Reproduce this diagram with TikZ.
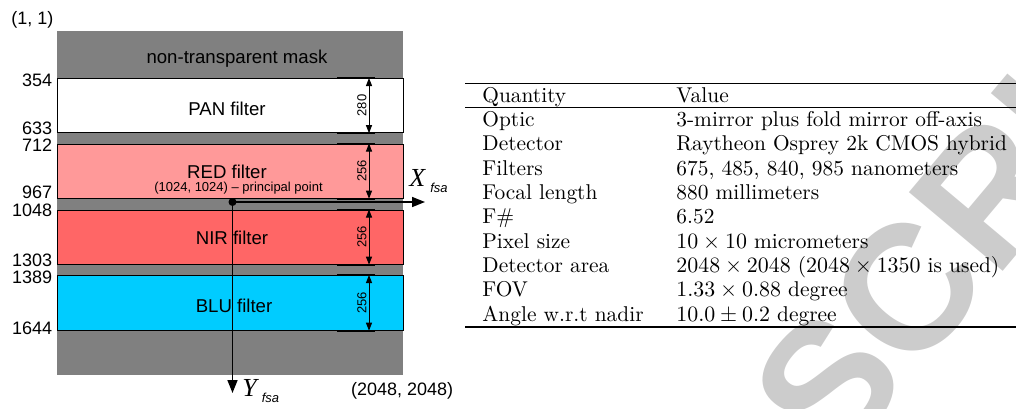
\documentclass[tikz,border=0pt]{standalone}
\usepackage{fontspec}
\usetikzlibrary{arrows.meta}
\newfontfamily\arialfont{Liberation Sans}
\newfontfamily\timesfont{Liberation Serif}
\definecolor{maskgray}{RGB}{128,128,128}
\definecolor{redband}{RGB}{255,153,153}
\definecolor{nirband}{RGB}{255,102,102}
\definecolor{bluband}{RGB}{0,204,255}
\definecolor{wmgray}{RGB}{204,204,204}
\newcommand{\bandfont}{\arialfont\fontsize{9.3}{10}\selectfont}
\newcommand{\numfont}{\arialfont\fontsize{9}{10}\selectfont}
\newcommand{\tinyfont}{\arialfont\fontsize{6.5}{7}\selectfont}
\newcommand{\axisname}[1]{{\timesfont\itshape\fontsize{13}{14}\selectfont #1}\hspace{2.5pt}\raisebox{-3pt}{\arialfont\itshape\fontsize{6.5}{7}\selectfont fsa}}
\tikzset{
  band/.style={draw=black,line width=0.6pt,minimum width=173pt,minimum height=27pt,inner sep=0pt,anchor=north west},
  rowlabel/.style={font=\numfont,anchor=base east,inner sep=0pt},
  tick/.style={line width=0.9pt},
  dimline/.style={line width=0.5pt,{Triangle[length=4pt,width=3pt]}-{Triangle[length=4pt,width=3pt]}},
  axis/.style={line width=0.75pt,-{Triangle[length=6.5pt,width=5pt]}},
  tabtext/.style={anchor=base west,inner sep=0pt,font=\fontsize{10.7}{13}\selectfont},
  watermark/.style={text=wmgray,inner sep=0pt,font=\arialfont\bfseries\fontsize{89}{89}\selectfont}
}

\begin{document}
\begin{tikzpicture}[x=0.5pt,y=-0.5pt]
  \useasboundingbox (0,0) rectangle (1016,408);
  % Wasserzeichen
  \node[watermark,rotate=50,anchor=base west] (wm) at (836,470) {SCRIPT};

  % Sensor mit Maske und Filterstreifen
  \fill[maskgray] (57,31) rectangle (403,375);
  \node[band,fill=white] (pan) at (57,78) {};
  \node[band,fill=redband] (red) at (57,143.5) {};
  \node[band,fill=nirband] (nir) at (57,209.5) {};
  \node[band,fill=bluband,minimum height=27.25pt] (blu) at (57,275) {};

  \node[font=\bandfont,anchor=base] (masktxt) at (237,63) {non-transparent mask};
  \node[font=\bandfont,anchor=base] (pantxt) at (227,115) {PAN filter};
  \node[font=\bandfont,anchor=base] (redtxt) at (227,178.3) {RED filter};
  \node[font=\tinyfont,anchor=base] (pptxt) at (238.5,191.5) {(1024, 1024) – principal point};
  \node[font=\bandfont,anchor=base] (nirtxt) at (232,244.3) {NIR filter};
  \node[font=\bandfont,anchor=base] (blutxt) at (234,312.7) {BLU filter};

  % Zeilennummern
  \foreach \y/\t in {86/354,134/633,151.5/712,198/967,216.5/1048,266/1303,283/1389,334/1644}
    \node[rowlabel] (n\t) at (52.5,\y) {\t};
  \node[font=\numfont,anchor=base west,inner sep=0pt] (topleft) at (11,24.5) {(1, 1)};
  \node[font=\numfont,anchor=base east,inner sep=0pt] (botright) at (453.5,395) {(2048, 2048)};

  % Breiten der Streifen
  \coordinate (dimx) at (369,0);
  \coordinate (tickl) at (337,0);
  \coordinate (tickr) at (375,0);
  \foreach \b/\n in {pan/280,red/256,nir/256,blu/256}{
    \draw[tick] (\b.north -| tickl) -- (\b.north -| tickr)
      (\b.south -| tickl) -- (\b.south -| tickr);
    \draw[dimline] (\b.north -| dimx) -- (\b.south -| dimx)
      node[midway,above,rotate=90,font=\tinyfont,inner sep=1pt] {\n};
  }

  % Achsen
  \coordinate (pp) at (232.5,202);
  \coordinate (xend) at (425,202);
  \coordinate (yend) at (232.5,393);
  \draw[axis] (pp) -- (xend);
  \draw[axis] (pp) -- (yend);
  \node[circle,fill=black,inner sep=0pt,minimum size=4pt] (ppdot) at (pp) {};
  \node[anchor=base west,inner sep=0pt] (xlab) at (409,186.5) {\axisname{X}};
  \node[anchor=base west,inner sep=0pt] (ylab) at (242,396.5) {\axisname{Y}};

  % Tabelle
  \draw[line width=0.8pt] (465,83.3) -- (1030,83.3);
  \draw[line width=0.5pt] (465,107) -- (1030,107);
  \draw[line width=0.8pt] (465,327) -- (1030,327);
  \node[tabtext] (qhead) at (482,102.5) {Quantity};
  \node[tabtext] (vhead) at (676,102.5) {Value};
  \foreach \i/\q/\v in {0/Optic/{3-mirror plus fold mirror off-axis},
      1/Detector/{Raytheon Osprey 2k CMOS hybrid},
      2/Filters/{675, 485, 840, 985 nanometers},
      3/Focal length/{880 millimeters},
      4/F\#/{6.52},
      5/Pixel size/{$10\times10$ micrometers},
      6/Detector area/{$2048\times2048$ ($2048\times1350$ is used)},
      7/FOV/{$1.33\times0.88$ degree},
      8/Angle w.r.t nadir/{$10.0\pm0.2$ degree}}{
    \node[tabtext] (q\i) at (482,{126.5+24.35*\i}) {\q};
    \node[tabtext] (v\i) at (676,{126.5+24.35*\i}) {\v};
  }
\end{tikzpicture}
\end{document}
